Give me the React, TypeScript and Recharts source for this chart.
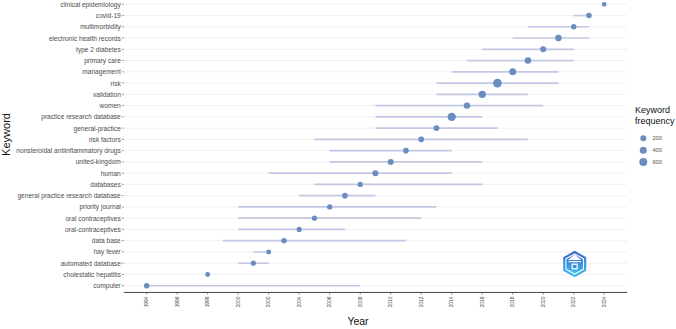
import React from 'react';
import { ScatterChart, Scatter, XAxis, YAxis, ZAxis, CartesianGrid, ErrorBar } from 'recharts';

// Keywords from bottom (index 0) to top
const keywords = [
  'computer',
  'cholestatic hepatitis',
  'automated database',
  'hay fever',
  'data base',
  'oral-contraceptives',
  'oral contraceptives',
  'priority journal',
  'general practice research database',
  'databases',
  'human',
  'united-kingdom',
  'nonsteroidal antiinflammatory drugs',
  'risk factors',
  'general-practice',
  'practice research database',
  'women',
  'validation',
  'risk',
  'management',
  'primary care',
  'type 2 diabetes',
  'electronic health records',
  'multimorbidity',
  'covid-19',
  'clinical epidemiology',
];
const yearQ1 = [1994, 1998, 2000, 2001, 1999, 2000, 2000, 2000, 2004, 2005, 2002, 2006, 2006, 2005, 2009, 2009, 2009, 2013, 2013, 2014, 2015, 2016, 2018, 2019, 2022, 2024];
const yearMedian = [1994, 1998, 2001, 2002, 2003, 2004, 2005, 2006, 2007, 2008, 2009, 2010, 2011, 2012, 2013, 2014, 2015, 2016, 2017, 2018, 2019, 2020, 2021, 2022, 2023, 2024];
const yearQ3 = [2008, 1998, 2002, 2002, 2011, 2007, 2012, 2013, 2009, 2016, 2014, 2016, 2014, 2019, 2017, 2016, 2020, 2019, 2021, 2021, 2022, 2022, 2023, 2023, 2023, 2024];
const frequency = [100, 30, 70, 30, 100, 60, 80, 80, 140, 80, 200, 200, 140, 160, 170, 700, 270, 470, 780, 385, 300, 200, 270, 100, 120, 10];

const yearTicks = [1994, 1996, 1998, 2000, 2002, 2004, 2006, 2008, 2010, 2012, 2014, 2016, 2018, 2020, 2022, 2024];
const legendValues = [200, 400, 600];

const FREQ_DOMAIN: [number, number] = [0, 800];
const AREA_RANGE: [number, number] = [17.28, 61.26];
const radiusFor = (f: number) => {
  const a = AREA_RANGE[0] + ((f - FREQ_DOMAIN[0]) / (FREQ_DOMAIN[1] - FREQ_DOMAIN[0])) * (AREA_RANGE[1] - AREA_RANGE[0]);
  return Math.sqrt(a / Math.PI);
};

const rows = keywords.map((k, i) => ({
  idx: i,
  keyword: k,
  median: yearMedian[i],
  freq: frequency[i],
  err: [yearMedian[i] - yearQ1[i], yearQ3[i] - yearMedian[i]],
}));

const FONT = "'Liberation Sans', Arial, sans-serif";
const DOT = '#6b8cbe';
const LINE = '#c2c8e3';
const OFFSET = 20;

const XTick = (props: any) => {
  const { x, y, payload } = props;
  return (
    <text
      x={x}
      y={y}
      transform={`rotate(-90 ${x} ${y})`}
      textAnchor="end"
      dominantBaseline="central"
      fontSize={4.9}
      fill="#4d4d4d"
      fontFamily={FONT}
    >
      {payload.value}
    </text>
  );
};

const YTick = (props: any) => {
  const { x, y, payload } = props;
  return (
    <text x={x} y={y} textAnchor="end" dominantBaseline="central" fontSize={6.6} fill="#4d4d4d" fontFamily={FONT}>
      {keywords[payload.value]}
    </text>
  );
};

const NoShape = () => <g />;

export default function App() {
  const hex = (cx: number, cy: number, r: number) =>
    [0, 1, 2, 3, 4, 5]
      .map((k) => {
        const a = (Math.PI / 3) * k - Math.PI / 2;
        return `${cx + r * Math.cos(a)},${cy + r * Math.sin(a)}`;
      })
      .join(' ');
  return (
    <div style={{ position: 'absolute', left: 0, top: 0, width: 676, height: 329, overflow: 'hidden', background: '#fff' }}>
      <div style={{ position: 'absolute', left: 0, top: -OFFSET }}>
        <ScatterChart
          width={676}
          height={369}
          margin={{ top: 17.55, left: 5.8, right: 48.9, bottom: 26.55 }}
        >
          <CartesianGrid horizontal vertical={false} stroke="#ebebeb" strokeWidth={0.7} />
          <XAxis
            type="number"
            dataKey="median"
            domain={[1992.5, 2025.5]}
            ticks={yearTicks}
            interval={0}
            height={30}
            tickSize={2}
            tickMargin={2}
            axisLine={{ stroke: '#333', strokeWidth: 0.9 }}
            tickLine={{ stroke: '#333', strokeWidth: 0.6 }}
            tick={<XTick />}
          />
          <YAxis
            type="number"
            dataKey="idx"
            domain={[-0.6, 25.6]}
            ticks={keywords.map((_, i) => i)}
            interval={0}
            width={118}
            tickSize={2}
            tickMargin={1}
            axisLine={false}
            tickLine={{ stroke: '#555', strokeWidth: 0.6 }}
            tick={<YTick />}
          />
          <ZAxis type="number" dataKey="freq" domain={FREQ_DOMAIN} range={AREA_RANGE} />
          <Scatter data={rows} shape={NoShape} isAnimationActive={false}>
            <ErrorBar dataKey="err" direction="x" width={0} stroke={LINE} strokeWidth={1.6} isAnimationActive={false} />
          </Scatter>
          <Scatter data={rows} fill={DOT} isAnimationActive={false} />
        </ScatterChart>
      </div>
      <svg width={676} height={329} style={{ position: 'absolute', left: 0, top: 0, pointerEvents: 'none' }}>
        <text x={358} y={325} textAnchor="middle" fontSize={10.5} fill="#111" fontFamily={FONT}>Year</text>
        <text x={9.5} y={134.5} transform="rotate(-90 9.5 134.5)" textAnchor="middle" fontSize={11} fill="#111" fontFamily={FONT}>Keyword</text>
        <text x={635} y={113.3} fontSize={9} fill="#111" fontFamily={FONT}>Keyword</text>
        <text x={635} y={124.3} fontSize={9} fill="#111" fontFamily={FONT}>frequency</text>
        {legendValues.map((v, i) => (
          <g key={v}>
            <circle cx={643.3} cy={138.3 + i * 11.9} r={radiusFor(v)} fill={DOT} />
            <text x={652.5} y={138.3 + i * 11.9} dominantBaseline="central" fontSize={5.6} fill="#4d4d4d" fontFamily={FONT}>{v}</text>
          </g>
        ))}
        <defs>
          <linearGradient id="logoGrad" x1="0" y1="0" x2="0" y2="1">
            <stop offset="0%" stopColor="#3a63c8" />
            <stop offset="100%" stopColor="#3cc3f2" />
          </linearGradient>
        </defs>
        <polygon points={hex(574.7, 264, 13.3)} fill="url(#logoGrad)" />
        <polygon points={hex(574.7, 264, 10.8)} fill="#ffffff" />
        <polygon points={hex(574.7, 264, 9.6)} fill="url(#logoGrad)" />
        <polygon points="568,260 574.7,254.5 581.4,260" fill="#ffffff" />
        <rect x={568.5} y={261} width={12.4} height={1.2} fill="#ffffff" />
        <rect x={571.5} y={263.5} width={6.4} height={6} fill="#ffffff" opacity={0.85} />
        <rect x={573} y={265} width={3.4} height={3} fill="#3a8fe0" />
      </svg>
    </div>
  );
}
